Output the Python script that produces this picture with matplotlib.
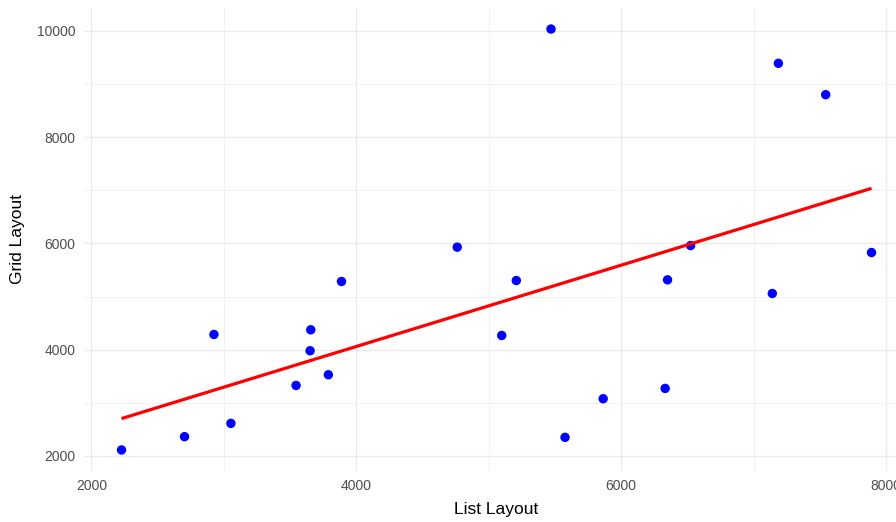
import numpy as np
import matplotlib
matplotlib.use("Agg")
import matplotlib.pyplot as plt
from matplotlib.ticker import MultipleLocator

plt.rcParams['font.family'] = ['Liberation Sans', 'DejaVu Sans']

# Load times per participant under each layout
list_layout = [2227, 2703, 2925, 3053, 3545, 3651, 3656, 3789, 3888, 4762, 5098,
               5208, 5470, 5576, 5864, 6332, 6350, 6524, 7141, 7187, 7544, 7890]
grid_layout = [2113, 2363, 4286, 2613, 3327, 3980, 4374, 3528, 5283, 5929, 4267,
               5301, 10033, 2350, 3077, 3271, 5314, 5959, 5057, 9388, 8798, 5828]

x_ticks = [2000, 4000, 6000, 8000]
y_ticks = [2000, 4000, 6000, 8000, 10000]

x = np.array(list_layout, dtype=float)
y = np.array(grid_layout, dtype=float)

fig = plt.figure(figsize=(8.96, 5.22), dpi=100)
ax = fig.add_axes([84 / 896, 1 - 471 / 522, (909 - 84) / 896, (471 - 8) / 522])

# Axis limits with 5% padding around the data range
xr = x.max() - x.min()
yr = y.max() - y.min()
ax.set_xlim(x.min() - 0.05 * xr, x.max() + 0.05 * xr)
ax.set_ylim(y.min() - 0.05 * yr, y.max() + 0.05 * yr)

ax.xaxis.set_major_locator(plt.FixedLocator(x_ticks))
ax.yaxis.set_major_locator(plt.FixedLocator(y_ticks))
ax.xaxis.set_minor_locator(MultipleLocator(1000))
ax.yaxis.set_minor_locator(MultipleLocator(1000))

ax.grid(True, which='major', color='#EBEBEB', linewidth=1.0)
ax.grid(True, which='minor', color='#EFEFEF', linewidth=0.6)
ax.set_axisbelow(True)
for s in ax.spines.values():
    s.set_visible(False)

ax.tick_params(which='both', length=0)
ax.tick_params(axis='x', labelsize=10, labelcolor='#4D4D4D', pad=6)
ax.tick_params(axis='y', labelsize=10, labelcolor='#4D4D4D', pad=6)

ax.scatter(x, y, s=46, color='#0000FF', edgecolors='none', zorder=3)

# Least-squares fit line
slope, intercept = np.polyfit(x, y, 1)
xs = np.array([x.min(), x.max()])
ax.plot(xs, slope * xs + intercept, color='#FF0000', linewidth=2.3, zorder=4,
        solid_capstyle='butt')

ax.set_xlabel('List Layout', fontsize=12.5, color='black', labelpad=6)
ax.set_ylabel('Grid Layout', fontsize=12.5, color='black', labelpad=9)

fig.savefig('out.png', dpi=100)
